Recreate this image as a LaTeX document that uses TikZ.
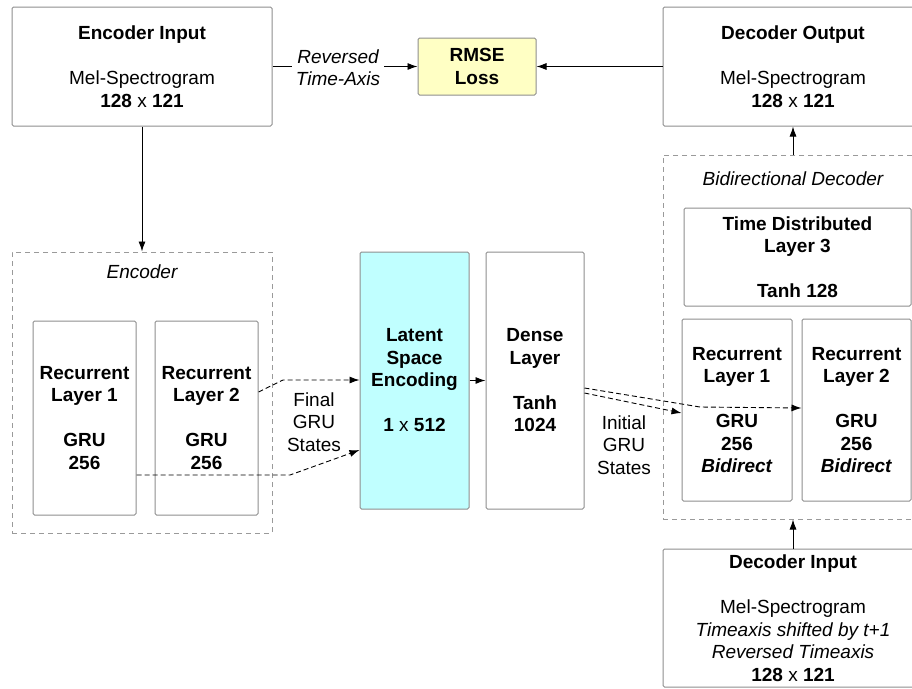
\documentclass[tikz,border=0pt]{standalone}
\usepackage{fontspec}
\setmainfont{Liberation Sans}
\usetikzlibrary{arrows.meta}

\definecolor{boxgray}{HTML}{8E8E8E}
\definecolor{dashgray}{HTML}{9A9A9A}
\definecolor{lossfill}{HTML}{FFFFC4}
\definecolor{latentfill}{HTML}{C0FFFF}

\tikzset{
  basefont/.style={font=\fontsize{19}{22.5}\selectfont},
  box/.style={basefont, draw=boxgray, line width=1, rounded corners=1.5,
    fill=white, align=center, inner sep=0},
  group/.style={draw=dashgray, line width=1, dash pattern=on 5pt off 4pt,
    inner sep=0},
  tag/.style={basefont, align=center, inner sep=2},
  link/.style={line width=0.9, -{Latex[length=10,width=7]}},
  dlink/.style={link, dash pattern=on 5pt off 3pt},
}

\begin{document}
\begin{tikzpicture}[x=1pt,y=-1pt]
\clip (0,0) rectangle (912,688);
\fill[white] (0,0) rectangle (912,688);

% ---------- groups ----------
\node[group, minimum width=260, minimum height=281] (encgrp) at (142,392.5) {};
\node[tag] (enclabel) at (142,272) {\itshape Encoder};

\node[group, minimum width=262, minimum height=364] (decgrp) at (794,337) {};
\node[tag] (declabel) at (793,179) {\itshape Bidirectional Decoder};

% ---------- top row ----------
\node[box, minimum width=260, minimum height=119] (encin) at (142,66.5)
  {\textbf{Encoder Input}\\[22.5pt]Mel-Spectrogram\\\textbf{128} x \textbf{121}};
\node[box, fill=lossfill, minimum width=118, minimum height=57] (rmse) at (477,66.5)
  {\textbf{RMSE}\\\textbf{Loss}};
\node[box, minimum width=260, minimum height=119] (decout) at (793,66.5)
  {\textbf{Decoder Output}\\[22.5pt]Mel-Spectrogram\\\textbf{128} x \textbf{121}};

% ---------- encoder ----------
\node[box, minimum width=103, minimum height=194] (er1) at (84.5,418)
  {\textbf{Recurrent}\\\textbf{Layer 1}\\[22.5pt]\textbf{GRU}\\\textbf{256}};
\node[box, minimum width=103, minimum height=194] (er2) at (206.5,418)
  {\textbf{Recurrent}\\\textbf{Layer 2}\\[22.5pt]\textbf{GRU}\\\textbf{256}};

% ---------- latent space ----------
\node[box, fill=latentfill, minimum width=109, minimum height=257] (latent) at (414.5,380.5)
  {\textbf{Latent}\\\textbf{Space}\\\textbf{Encoding}\\[22.5pt]\textbf{1} x \textbf{512}};
\node[box, minimum width=98, minimum height=257] (dense) at (535,380.5)
  {\textbf{Dense}\\\textbf{Layer}\\[22.5pt]\textbf{Tanh}\\\textbf{1024}};

% ---------- decoder ----------
\node[box, minimum width=227, minimum height=98] (timed) at (797.5,257)
  {\textbf{Time Distributed}\\\textbf{Layer 3}\\[22.5pt]\textbf{Tanh 128}};
\node[box, minimum width=110, minimum height=182] (dr1) at (737,410)
  {\textbf{Recurrent}\\\textbf{Layer 1}\\[22.5pt]\textbf{GRU}\\\textbf{256}\\\textbf{\textit{Bidirect}}};
\node[box, minimum width=109, minimum height=182] (dr2) at (856.5,410)
  {\textbf{Recurrent}\\\textbf{Layer 2}\\[22.5pt]\textbf{GRU}\\\textbf{256}\\\textbf{\textit{Bidirect}}};

\node[box, minimum width=260, minimum height=138] (decin) at (793,618)
  {\textbf{Decoder Input}\\[22.5pt]Mel-Spectrogram\\\textit{Timeaxis shifted by t+1}\\\textit{Reversed Timeaxis}\\\textbf{128} x \textbf{121}};

% ---------- connectors ----------
\draw[link] (encin) -- (rmse);
\node[tag, fill=white, inner sep=4] (revlabel) at (338,67.5) {\itshape Reversed\\\itshape Time-Axis};
\draw[link] (decout) -- (rmse);

\draw[link] (encin.south) -- (encgrp.north);
\draw[link] (decgrp.north -| decout.south) -- (decout.south);
\draw[link] (decin.north) -- (decin.north |- decgrp.south);

\draw[dlink] (er2.east |- 0,392) -- (283,380) -- (latent.west |- 0,380);
\draw[dlink] (er1.east |- 0,475) -- (290,475) -- (latent.west |- 0,450);
\node[tag] (finallabel) at (314,422) {Final\\GRU\\States};

\draw[link] (latent.east) -- (dense.west);

\draw[dlink] (dense.east |- 0,393) -- (dr1.west |- 0,413);
\draw[dlink] (dense.east |- 0,388) -- (700,407) -- (dr2.west |- 0,408);
\node[tag] (initlabel) at (624,445) {Initial\\GRU\\States};
\end{tikzpicture}
\end{document}
